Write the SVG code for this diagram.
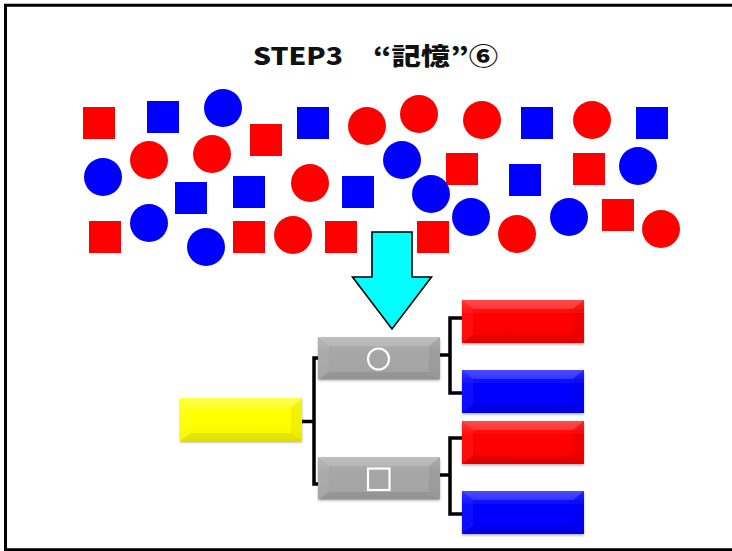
<svg xmlns="http://www.w3.org/2000/svg" xmlns:xlink="http://www.w3.org/1999/xlink" width="732" height="551" viewBox="0 0 732 551">
  <style>
    .r { fill: #FF0000; }
    .b { fill: #0000FF; }
    .title { font-family: "Noto Sans CJK JP", "Noto Sans", sans-serif; font-weight: 900; font-size: 24px; fill: #111; }
    .link { fill: none; stroke: #000; stroke-width: 3.5; stroke-linejoin: miter; }
    .box { filter: url(#shadow); }
    .mark { fill: none; stroke: #fff; stroke-width: 2.2; }
  </style>
  <defs>
    <filter id="shadow" x="-10%" y="-20%" width="120%" height="150%">
      <feDropShadow dx="0" dy="1.5" stdDeviation="1" flood-color="#000" flood-opacity="0.3"/>
    </filter>
    <linearGradient id="sheen" x1="0" y1="0" x2="0" y2="1">
      <stop offset="0" stop-color="#fff" stop-opacity="0.18"/>
      <stop offset="0.35" stop-color="#fff" stop-opacity="0"/>
      <stop offset="1" stop-color="#000" stop-opacity="0.04"/>
    </linearGradient>
    <!-- inset bevel overlay for a 122 x 43 box -->
    <g id="bevel">
      <rect width="122" height="43" fill="url(#sheen)"/>
      <polygon points="0,0 122,0 111,9 11,9" fill="#fff" fill-opacity="0.14"/>
      <polygon points="0,0 11,9 11,35 0,43" fill="#fff" fill-opacity="0.05"/>
      <polygon points="122,0 122,43 111,35 111,9" fill="#000" fill-opacity="0.05"/>
      <polygon points="0,43 11,35 111,35 122,43" fill="#000" fill-opacity="0.08"/>
    </g>
  </defs>

  <rect width="732" height="551" fill="#fff"/>
  <!-- slide frame -->
  <path d="M732 5.3 H5.5 V549.8 H732" fill="none" stroke="#000" stroke-width="3"/>

  <text class="title" y="64.5"><tspan x="253" textLength="90" lengthAdjust="spacingAndGlyphs">STEP3</tspan> <tspan x="373" textLength="125" lengthAdjust="spacingAndGlyphs">“記憶”⑥</tspan></text>

  <!-- scattered shapes -->
  <g id="shapes">
    <rect class="r" x="83" y="107" width="32" height="32"/>
    <rect class="b" x="147" y="101" width="32" height="32"/>
    <circle class="b" cx="223" cy="108" r="19"/>
    <rect class="r" x="250" y="124" width="32" height="32"/>
    <rect class="b" x="297" y="107" width="32" height="32"/>
    <circle class="r" cx="367" cy="126" r="19"/>
    <circle class="r" cx="419" cy="114" r="19"/>
    <circle class="r" cx="482" cy="120" r="19"/>
    <rect class="b" x="521" y="107" width="32" height="32"/>
    <circle class="r" cx="592" cy="120" r="19"/>
    <rect class="b" x="636" y="107" width="32" height="32"/>

    <circle class="b" cx="103" cy="177" r="19"/>
    <circle class="r" cx="149" cy="160" r="19"/>
    <circle class="r" cx="212" cy="154" r="19"/>
    <rect class="b" x="175" y="182" width="32" height="32"/>
    <rect class="b" x="233" y="176" width="32" height="32"/>
    <circle class="r" cx="310" cy="183" r="19"/>
    <rect class="b" x="342" y="176" width="32" height="32"/>
    <circle class="b" cx="402" cy="160" r="19"/>
    <rect class="r" x="446" y="153" width="32" height="32"/>
    <circle class="b" cx="431" cy="194" r="19"/>
    <rect class="b" x="509" y="164" width="32" height="32"/>
    <rect class="r" x="573" y="153" width="32" height="32"/>
    <circle class="b" cx="638" cy="166" r="19"/>

    <rect class="r" x="89" y="221" width="32" height="32"/>
    <circle class="b" cx="149" cy="223" r="19"/>
    <circle class="b" cx="206" cy="247" r="19"/>
    <rect class="r" x="233" y="221" width="32" height="32"/>
    <circle class="r" cx="293" cy="235" r="19"/>
    <rect class="r" x="325" y="221" width="32" height="32"/>
    <rect class="r" x="417" y="221" width="32" height="32"/>
    <circle class="b" cx="471" cy="217" r="19"/>
    <circle class="r" cx="517" cy="234" r="19"/>
    <circle class="b" cx="569" cy="217" r="19"/>
    <rect class="r" x="602" y="199" width="32" height="32"/>
    <circle class="r" cx="661" cy="229" r="19"/>
  </g>

  <!-- down arrow -->
  <g id="arrow">
    <polygon points="372,232 412,232 412,277 431.5,277 392,329 352.5,277 372,277" fill="#00FFFF" stroke="#000" stroke-width="1.6" stroke-linejoin="miter"/>
  </g>

  <!-- connectors -->
  <g id="connectors">
    <path class="link" d="M302 421.5 H314 M319 358 H314 V484 H319"/>
    <path class="link" d="M440 355 H450 M463 318 H450 V393 H463"/>
    <path class="link" d="M440 475 H450 M463 438 H450 V514 H463"/>
  </g>

  <!-- tree nodes -->
  <g id="root" class="box">
    <rect x="180" y="398" width="122" height="43" fill="#FFFF00"/>
    <use xlink:href="#bevel" x="180" y="398"/>
  </g>
  <g id="circle-group" class="box">
    <rect x="318" y="337" width="122" height="42" fill="#A6A6A6"/>
    <use xlink:href="#bevel" x="318" y="337"/>
    <circle class="mark" cx="378.5" cy="359" r="10.5"/>
  </g>
  <g id="square-group" class="box">
    <rect x="318" y="457" width="122" height="42" fill="#A6A6A6"/>
    <use xlink:href="#bevel" x="318" y="457"/>
    <rect class="mark" x="368" y="468.5" width="21.5" height="21.5"/>
  </g>
  <g id="red-circles" class="box">
    <rect x="462" y="300" width="122" height="43" fill="#FF0000"/>
    <use xlink:href="#bevel" x="462" y="300"/>
  </g>
  <g id="blue-circles" class="box">
    <rect x="462" y="370" width="122" height="43" fill="#0000FF"/>
    <use xlink:href="#bevel" x="462" y="370"/>
  </g>
  <g id="red-squares" class="box">
    <rect x="462" y="421" width="122" height="43" fill="#FF0000"/>
    <use xlink:href="#bevel" x="462" y="421"/>
  </g>
  <g id="blue-squares" class="box">
    <rect x="462" y="491" width="122" height="43" fill="#0000FF"/>
    <use xlink:href="#bevel" x="462" y="491"/>
  </g>
</svg>
